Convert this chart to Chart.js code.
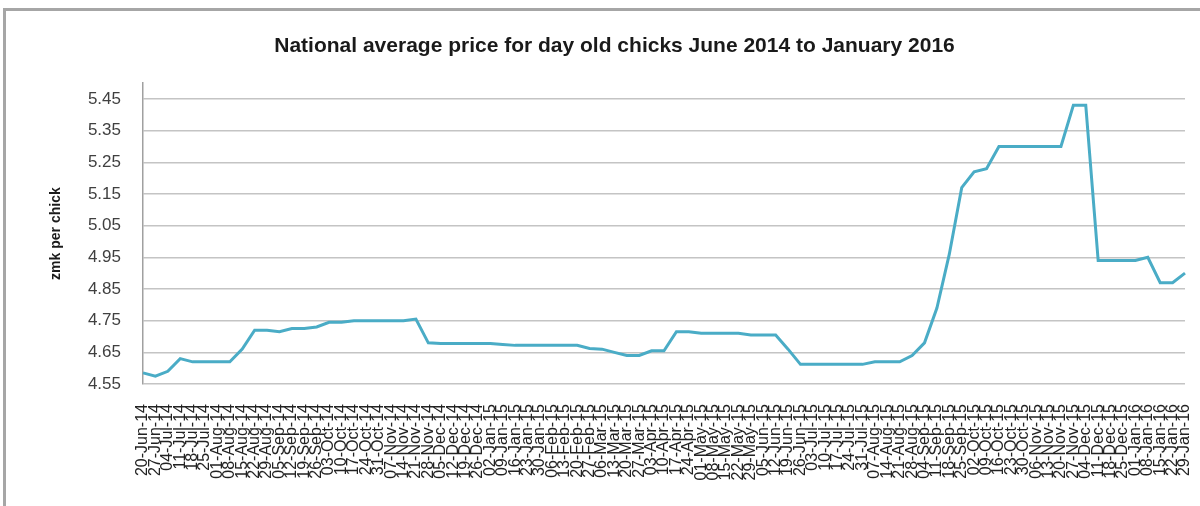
<!DOCTYPE html>
<html>
<head>
<meta charset="utf-8">
<script src="https://cdn.jsdelivr.net/npm/chart.js@4.4.1/dist/chart.umd.min.js"></script>
<style>
  body { margin: 0; background: #fff; overflow: hidden; }
  #frame { position: absolute; left: 3px; top: 8px; width: 1300px; height: 600px;
           border-left: 3px solid #a6a6a6; border-top: 3px solid #a6a6a6; }
  #wrap { position: absolute; left: 0; top: 0; width: 1200px; height: 506px; }
</style>
</head>
<body>
<div id="frame"></div>
<div id="wrap"><canvas id="myChart"></canvas></div>
<script>
// weekly dates (Fridays)
const weeks = [
  "20-Jun-14","27-Jun-14","04-Jul-14","11-Jul-14","18-Jul-14","25-Jul-14","01-Aug-14","08-Aug-14",
  "15-Aug-14","22-Aug-14","29-Aug-14","05-Sep-14","12-Sep-14","19-Sep-14","26-Sep-14","03-Oct-14",
  "10-Oct-14","17-Oct-14","24-Oct-14","31-Oct-14","07-Nov-14","14-Nov-14","21-Nov-14","28-Nov-14",
  "05-Dec-14","12-Dec-14","19-Dec-14","26-Dec-14","02-Jan-15","09-Jan-15","16-Jan-15","23-Jan-15",
  "30-Jan-15","06-Feb-15","13-Feb-15","20-Feb-15","27-Feb-15","06-Mar-15","13-Mar-15","20-Mar-15",
  "27-Mar-15","03-Apr-15","10-Apr-15","17-Apr-15","24-Apr-15","01-May-15","08-May-15","15-May-15",
  "22-May-15","29-May-15","05-Jun-15","12-Jun-15","19-Jun-15","26-Jun-15","03-Jul-15","10-Jul-15",
  "17-Jul-15","24-Jul-15","31-Jul-15","07-Aug-15","14-Aug-15","21-Aug-15","28-Aug-15","04-Sep-15",
  "11-Sep-15","18-Sep-15","25-Sep-15","02-Oct-15","09-Oct-15","16-Oct-15","23-Oct-15","30-Oct-15",
  "06-Nov-15","13-Nov-15","20-Nov-15","27-Nov-15","04-Dec-15","11-Dec-15","18-Dec-15","25-Dec-15",
  "01-Jan-16","08-Jan-16","15-Jan-16","22-Jan-16","29-Jan-16"
];

// zmk per chick
const prices = [
  4.585,4.575,4.59,4.63,4.62,4.62,4.62,4.62,4.66,4.72,
  4.72,4.715,4.725,4.725,4.73,4.745,4.745,4.75,4.75,4.75,
  4.75,4.75,4.755,4.68,4.678,4.678,4.678,4.678,4.678,4.675,
  4.672,4.672,4.672,4.672,4.672,4.672,4.662,4.66,4.65,4.64,
  4.64,4.655,4.655,4.715,4.715,4.71,4.71,4.71,4.71,4.705,
  4.705,4.705,4.66,4.612,4.612,4.612,4.612,4.612,4.612,4.62,
  4.62,4.62,4.64,4.68,4.79,4.96,5.17,5.22,5.23,5.30,
  5.30,5.30,5.30,5.30,5.30,5.43,5.43,4.94,4.94,4.94,
  4.94,4.95,4.87,4.87,4.90
];

const yTicks = [4.55,4.65,4.75,4.85,4.95,5.05,5.15,5.25,5.35,5.45];

const sans = "'Liberation Sans', Arial, sans-serif";

const ctx = document.getElementById("myChart");

const myChart = new Chart(ctx, {
  type: 'line',
  data: {
    labels: weeks,
    datasets: [{
      data: prices,
      borderColor: '#4aacc6',
      borderWidth: 3,
      pointRadius: 0,
      tension: 0,
      fill: false
    }]
  },
  options: {
    animation: false,
    responsive: true,
    maintainAspectRatio: false,
    layout: { padding: { left: 44, right: 15, top: 0, bottom: 0 } },
    plugins: {
      legend: { display: false },
      tooltip: { enabled: false },
      title: {
        display: true,
        text: 'National average price for day old chicks June 2014 to January 2016',
        color: '#1a1a1a',
        font: { family: sans, size: 21, weight: 'bold' },
        padding: { top: 34, bottom: 24 }
      }
    },
    scales: {
      x: {
        offset: false,
        grid: { display: false, drawTicks: false },
        border: { display: false },
        ticks: {
          autoSkip: false,
          maxRotation: 90,
          minRotation: 90,
          padding: 20,
          color: '#222222',
          font: { family: sans, size: 16 }
        },
        afterFit: function(scale) {
          scale.height = 122;
          scale.paddingLeft = 0;
          scale.paddingRight = 0;
        }
      },
      y: {
        min: 4.55,
        max: 5.5,
        afterBuildTicks: function(scale) {
          scale.ticks = yTicks.map(v => ({ value: v }));
        },
        grid: { color: '#c4c4c4', lineWidth: 1.5, drawTicks: false },
        border: { display: true, color: '#a0a0a0', width: 1.5 },
        ticks: {
          padding: 22,
          color: '#404040',
          font: { family: sans, size: 17 },
          callback: v => Number(v).toFixed(2)
        },
        title: {
          display: true,
          text: 'zmk per chick',
          color: '#1a1a1a',
          font: { family: sans, size: 14, weight: 'bold' },
          padding: { top: 4, bottom: 0 }
        },
        afterFit: function(scale) { scale.width = 99; }
      }
    }
  }
});
</script>
</body>
</html>
